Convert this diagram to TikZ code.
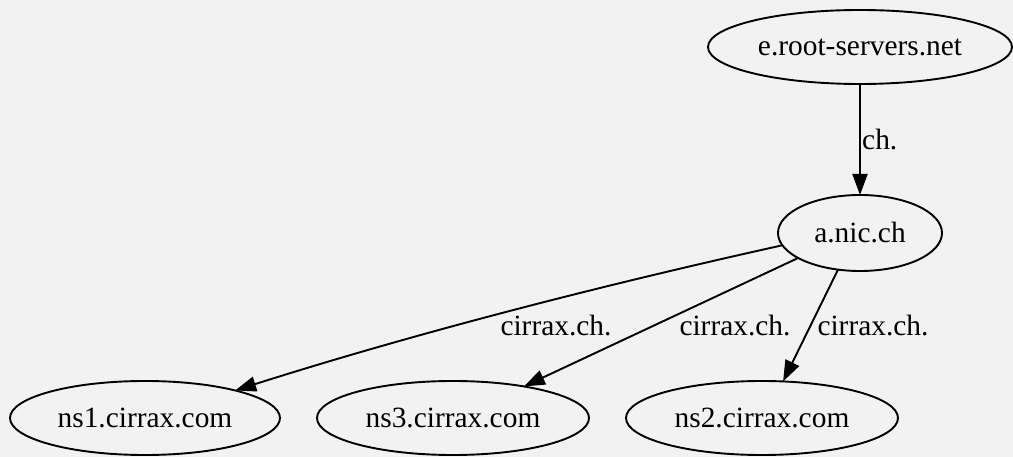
\documentclass[tikz,border=0pt]{standalone}
\usepackage{fontspec}
\setmainfont{Liberation Serif}
\usetikzlibrary{shapes.geometric,arrows.meta}
\definecolor{bg}{HTML}{F2F2F2}
\begin{document}
\begin{tikzpicture}[x=1pt,y=-1pt,
  host/.style={draw,line width=1.9pt,ellipse,inner sep=0pt,outer sep=0pt,font=\fontsize{29.4}{33}\selectfont},
  edge/.style={line width=1.9pt,-{Triangle[length=21pt,width=15pt]}},
  lbl/.style={font=\fontsize{29.4}{33}\selectfont,inner sep=0pt}]
\fill[bg] (0,0) rectangle (1013,457);
\useasboundingbox (0,0) rectangle (1013,457);
\node[host,minimum width=304pt,minimum height=74pt] (root) at (860,47) {e.root-servers.net};
\node[host,minimum width=164pt,minimum height=76pt] (nic) at (860,233) {a.nic.ch};
\node[host,minimum width=270pt,minimum height=74pt] (ns1) at (145,418) {ns1.cirrax.com};
\node[host,minimum width=272pt,minimum height=74pt] (ns3) at (453,418) {ns3.cirrax.com};
\node[host,minimum width=272pt,minimum height=74pt] (ns2) at (762,418) {ns2.cirrax.com};
\draw[edge] (root) -- (nic);
\node[lbl,anchor=west] (l0) at (862,140) {ch.};
\draw[edge] (nic.189) .. controls (603,285) and (416,333) .. (ns1.17);
\draw[edge] (nic.202) -- (ns3.24);
\draw[edge] (nic.239) -- (ns2.60);
\node[lbl] (l1) at (556,326) {cirrax.ch.};
\node[lbl] (l2) at (735,326) {cirrax.ch.};
\node[lbl] (l3) at (873,326) {cirrax.ch.};
\end{tikzpicture}
\end{document}
